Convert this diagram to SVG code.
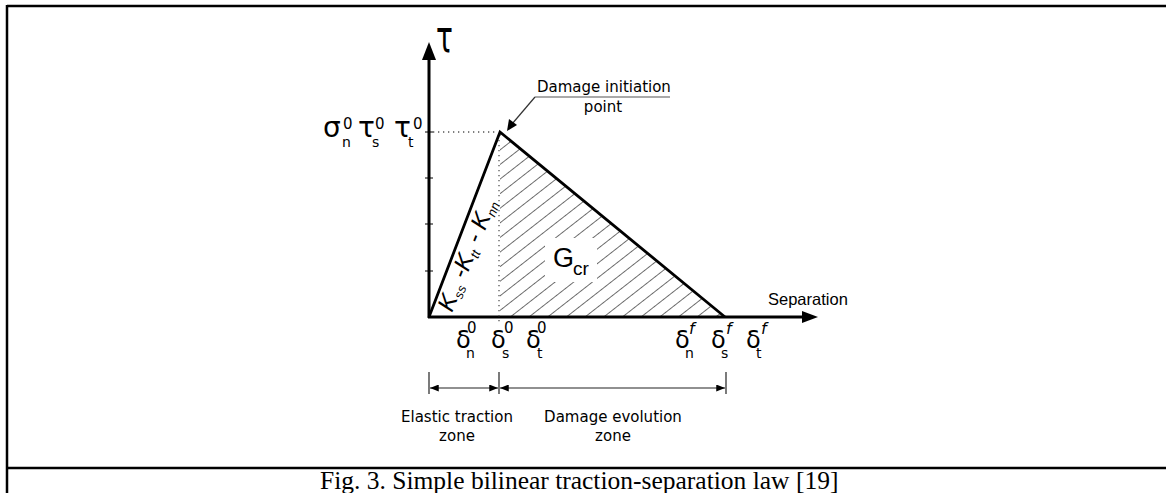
<svg xmlns="http://www.w3.org/2000/svg" width="1166" height="493" viewBox="0 0 1166 493">
<defs>
<style>
.frame{stroke:#000;stroke-width:2.5;fill:none}
.axis{stroke:#000;stroke-width:3;fill:none}
.curve{stroke:#000;stroke-width:2.8;fill:none;stroke-linejoin:miter}
.dot{stroke:#555;stroke-width:1.3;stroke-dasharray:1.3 3.7;fill:none}
.tick{stroke:#000;stroke-width:1;fill:none}
.dim{stroke:#222;stroke-width:1.2;fill:none}
.dv{font-family:"DejaVu Sans",sans-serif;fill:#000}
.ar{font-family:"Liberation Sans",Arial,sans-serif;fill:#000}
.cap{font-family:"Liberation Serif","Times New Roman",serif;font-size:25.5px;fill:#000}
.mid{text-anchor:middle}
.big{font-size:28px}
.dl{font-size:24px}
.sp{font-size:15px}
.sb{font-size:14px}
.fi{font-size:16px;font-style:italic}
</style>
<marker id="ah" viewBox="0 0 10 8" refX="10" refY="4" markerWidth="9" markerHeight="7" markerUnits="userSpaceOnUse" orient="auto-start-reverse"><path d="M0,0 L10,4 L0,8 z" fill="#000"/></marker>
<pattern id="hatch" patternUnits="userSpaceOnUse" width="40" height="11.5" patternTransform="rotate(-38)"><line x1="0" y1="0.5" x2="40" y2="0.5" stroke="#6a6a6a" stroke-width="1"/></pattern>
<clipPath id="tri"><polygon points="500,133 500,316 722,316"/></clipPath>
</defs>
<rect width="1166" height="493" fill="#fff"/>
<g id="frame">
<line class="frame" x1="7" y1="6" x2="1166" y2="6"/>
<line class="frame" x1="7" y1="5" x2="7" y2="493"/>
<line class="frame" x1="7" y1="468" x2="1166" y2="468"/>
</g>
<g id="hatching">
<rect x="499" y="128" width="230" height="192" fill="url(#hatch)" clip-path="url(#tri)"/>
<rect x="545" y="238" width="52" height="44" fill="#fff"/>
</g>
<g id="axes">
<line class="axis" x1="429" y1="318" x2="429" y2="58"/>
<polygon points="422,60 429,42 436,60" fill="#000"/>
<line class="axis" x1="428" y1="317" x2="803" y2="317"/>
<polygon points="802,311 818,317 802,323" fill="#000"/>
<line class="tick" x1="425" y1="132" x2="433" y2="132"/>
<line class="tick" x1="425" y1="178" x2="433" y2="178"/>
<line class="tick" x1="425" y1="224" x2="433" y2="224"/>
<line class="tick" x1="425" y1="271" x2="433" y2="271"/>
<line class="dot" x1="433" y1="132" x2="498" y2="132"/>
<line class="dot" x1="499" y1="135" x2="499" y2="322"/>
</g>
<g id="curve">
<polyline class="curve" points="429,317 500,132 725,317"/>
</g>
<g id="connectors">
<line x1="535" y1="97" x2="670" y2="97" stroke="#555" stroke-width="1.2"/>
<line x1="535" y1="97" x2="512" y2="124" stroke="#333" stroke-width="1.2"/>
<polygon points="507,131 509,119 517,125" fill="#000"/>
<line class="dim" x1="429" y1="372" x2="429" y2="394"/>
<line class="dim" x1="499" y1="372" x2="499" y2="394"/>
<line class="dim" x1="726" y1="372" x2="726" y2="394"/>
<line class="dim" x1="430" y1="388" x2="498" y2="388" marker-start="url(#ah)" marker-end="url(#ah)"/>
<line class="dim" x1="500" y1="388" x2="725" y2="388" marker-start="url(#ah)" marker-end="url(#ah)"/>
</g>
<g id="label-tau">
<text class="dv" transform="translate(436,52) scale(1,1.6)" font-size="28">τ</text>
</g>
<g id="label-y0">
<text class="dv big" x="323" y="137">σ<tspan class="sp" x="343" dy="-8">0</tspan><tspan class="sb" x="342" dy="18">n</tspan></text>
<text class="dv big" x="358" y="137">τ<tspan class="sp" x="375" dy="-8">0</tspan><tspan class="sb" x="372" dy="18">s</tspan></text>
<text class="dv big" x="394" y="137">τ<tspan class="sp" x="413" dy="-8">0</tspan><tspan class="sb" x="408" dy="18">t</tspan></text>
</g>
<g id="label-delta0">
<text class="dv dl" x="456" y="348">δ<tspan class="sp" x="467" dy="-15">0</tspan><tspan class="sb" x="466" dy="25">n</tspan></text>
<text class="dv dl" x="491" y="348">δ<tspan class="sp" x="504" dy="-15">0</tspan><tspan class="sb" x="502" dy="25">s</tspan></text>
<text class="dv dl" x="526" y="348">δ<tspan class="sp" x="537" dy="-15">0</tspan><tspan class="sb" x="537" dy="25">t</tspan></text>
</g>
<g id="label-deltaf">
<text class="dv dl" x="675" y="348">δ<tspan class="fi" x="689" dy="-14">f</tspan><tspan class="sb" x="685" dy="24">n</tspan></text>
<text class="dv dl" x="711" y="348">δ<tspan class="fi" x="726" dy="-14">f</tspan><tspan class="sb" x="721" dy="24">s</tspan></text>
<text class="dv dl" x="746" y="348">δ<tspan class="fi" x="761" dy="-14">f</tspan><tspan class="sb" x="756" dy="24">t</tspan></text>
</g>
<g id="label-stiffness">
<text class="ar" transform="translate(452,313) rotate(-68)" font-size="24" font-style="italic">K<tspan font-size="13" dy="4">ss</tspan><tspan dy="-4"> -K</tspan><tspan font-size="13" dy="4">tt</tspan><tspan dy="-4"> - K</tspan><tspan font-size="13" dy="4">nn</tspan></text>
</g>
<g id="label-gcr">
<text class="ar" x="553" y="267" font-size="27">G<tspan font-size="19" x="573" dy="8">cr</tspan></text>
</g>
<g id="label-separation">
<text class="ar" x="768" y="305" font-size="16.5">Separation</text>
</g>
<g id="label-initiation">
<text class="dv" x="537" y="92" font-size="15">Damage initiation</text>
<text class="dv mid" x="603" y="112" font-size="15">point</text>
</g>
<g id="label-elastic">
<text class="dv mid" x="457" y="422" font-size="15">Elastic traction</text>
<text class="dv mid" x="457" y="441" font-size="15">zone</text>
</g>
<g id="label-damage">
<text class="dv mid" x="613" y="422" font-size="15">Damage evolution</text>
<text class="dv mid" x="613" y="441" font-size="15">zone</text>
</g>
<g id="caption">
<text class="cap" x="320" y="489">Fig. 3. Simple bilinear traction-separation law [19]</text>
</g>
</svg>
